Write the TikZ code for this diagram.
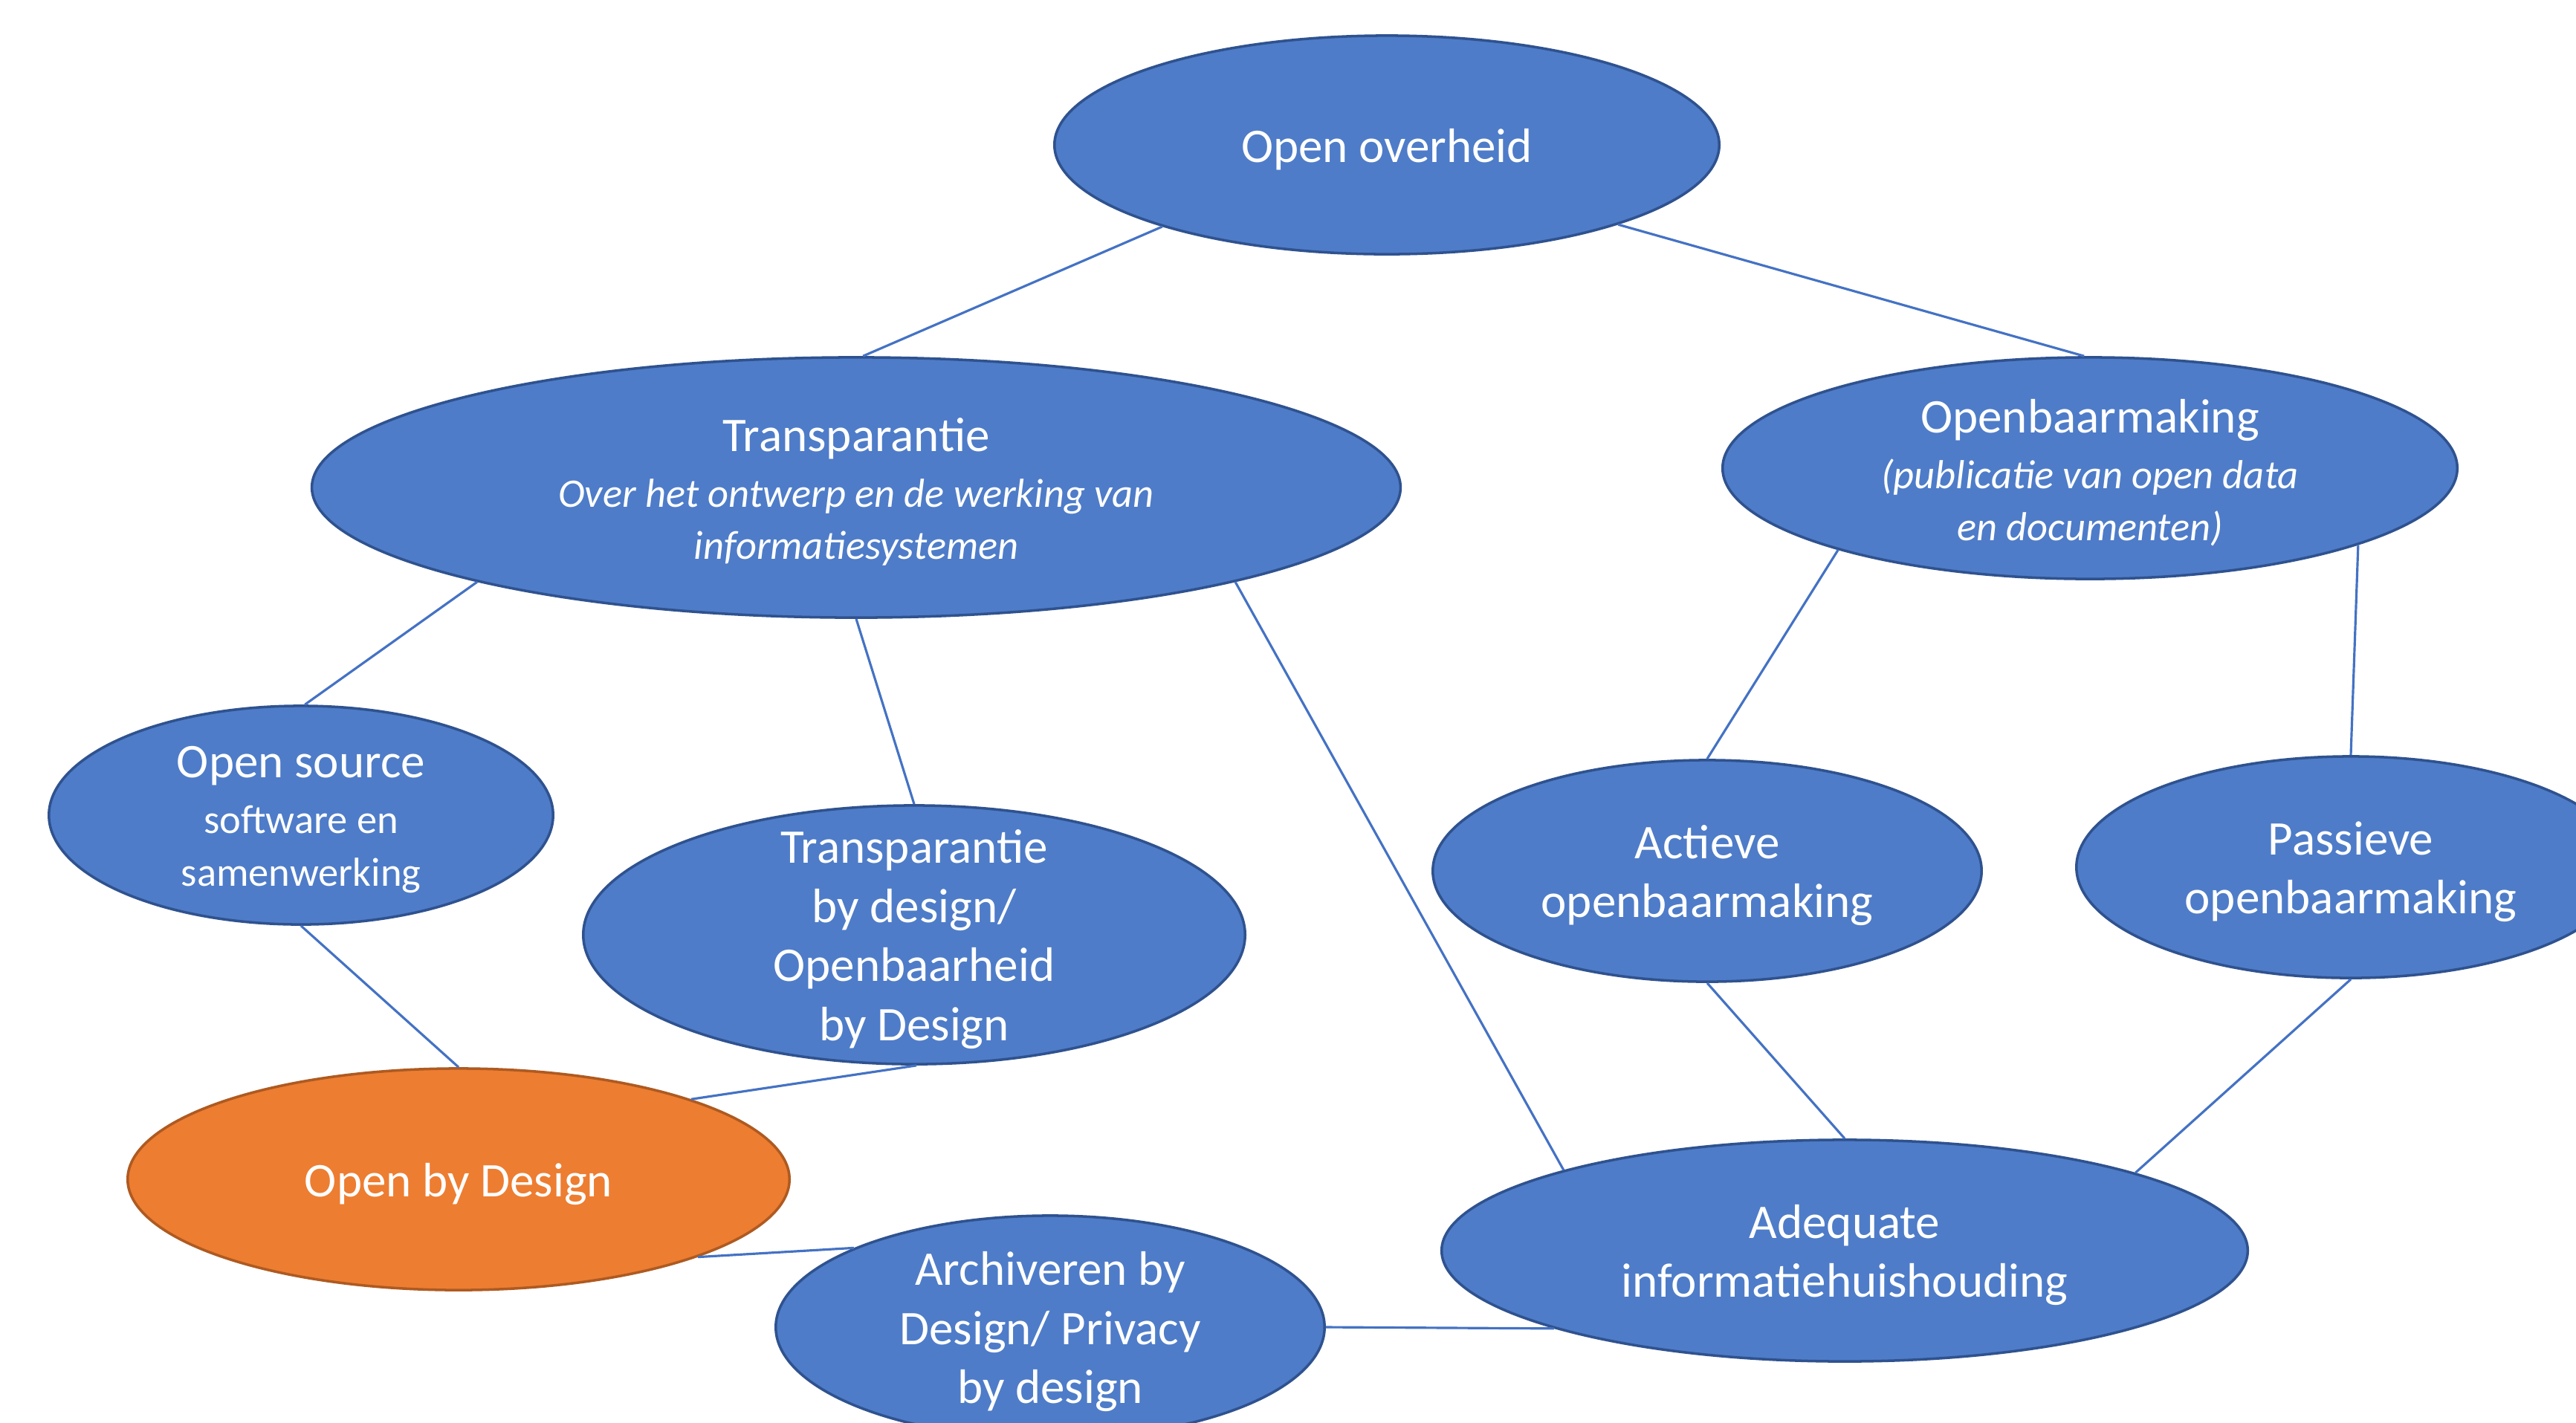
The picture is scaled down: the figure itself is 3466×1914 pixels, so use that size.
\documentclass[tikz,border=0pt]{standalone}
\usepackage{fontspec}
\setmainfont{Carlito}
\usetikzlibrary{shapes.geometric}

\definecolor{blobfill}{RGB}{78,124,200}
\definecolor{blobedge}{RGB}{47,82,143}
\definecolor{hubfill}{RGB}{237,125,49}
\definecolor{hubedge}{RGB}{174,90,33}
\definecolor{linkblue}{RGB}{68,114,196}

\newcommand{\subtxt}[1]{{\fontsize{15.5}{19}\selectfont #1}}
\newcommand{\subit}[1]{{\fontsize{15.5}{19}\selectfont\itshape #1}}

\begin{document}
\begin{tikzpicture}[x=0.01cm, y=-0.01cm,
    blob/.style={ellipse, draw=blobedge, fill=blobfill, line width=1pt, inner sep=0pt},
    hub/.style={blob, draw=hubedge, fill=hubfill},
    txt/.style={text=white, align=center, inner sep=0pt, yshift=-0.06cm, font=\fontsize{18.5}{22.6}\selectfont},
    link/.style={draw=linkblue, line width=0.9pt}]

    % Canvas
    \fill[white] (0,0) rectangle (3466,1914);
    \useasboundingbox (0,0) rectangle (3466,1914);
    \clip (0,0) rectangle (3466,1914);

    % Ellipses
    \node[blob, minimum width=8.94cm, minimum height=2.94cm] (oo) at (1866,195) {};
    \node[blob, minimum width=14.64cm, minimum height=3.5cm] (tr) at (1152,656) {};
    \node[blob, minimum width=9.88cm, minimum height=2.98cm] (ob) at (2812,630) {};
    \node[blob, minimum width=6.78cm, minimum height=2.94cm] (os) at (405,1097) {};
    \node[blob, minimum width=8.9cm, minimum height=3.48cm] (tbd) at (1230,1258) {};
    \node[blob, minimum width=7.38cm, minimum height=2.98cm] (ac) at (2297,1172) {};
    \node[blob, minimum width=7.38cm, minimum height=2.98cm] (pa) at (3163,1167) {};
    \node[hub, minimum width=8.9cm, minimum height=2.98cm] (obd) at (617,1587) {};
    \node[blob, minimum width=7.38cm, minimum height=3cm] (ar) at (1413,1786) {};
    \node[blob, minimum width=10.84cm, minimum height=2.98cm] (ad) at (2482,1683) {};

    % Texts
    \node[txt] (oo-t) at (oo) {Open overheid};
    \node[txt] (tr-t) at (tr) {Transparantie\\[-1.3pt]\subit{Over het ontwerp en de werking van}\\[-2.6pt]\subit{informatiesystemen}};
    \node[txt] (ob-t) at (ob) {Openbaarmaking\\[-1.3pt]\subit{(publicatie van open data}\\[-2.6pt]\subit{en documenten)}};
    \node[txt] (os-t) at (os) {Open source\\[-1.3pt]\subtxt{software en}\\[-2.6pt]\subtxt{samenwerking}};
    \node[txt] (tbd-t) at (tbd) {Transparantie\\by design/\\Openbaarheid\\by Design};
    \node[txt] (ac-t) at (ac) {Actieve\\openbaarmaking};
    \node[txt] (pa-t) at (pa) {Passieve\\openbaarmaking};
    \node[txt] (obd-t) at (obd) {Open by Design};
    \node[txt] (ar-t) at (ar) {Archiveren by\\Design/ Privacy\\by design};
    \node[txt] (ad-t) at (ad) {Adequate\\informatiehuishouding};

    % Connectors
    \draw[link] (oo.200) -- (tr.87);
    \draw[link] (oo.341) -- (ob.93);
    \draw[link] (tr.194) -- (os.88);
    \draw[link] (tr.270) -- (tbd.90);
    \draw[link] (tr.346) -- (ad.164);
    \draw[link] (ob.198) -- (ac.90);
    \draw[link] (ob.344) -- (pa.90);
    \draw[link] (os.270) -- (obd.90);
    \draw[link] (tbd.271) -- (obd.19);
    \draw[link] (obd.342) -- (ar.158);
    \draw[link] (ar.0) -- (ad.195);
    \draw[link] (ac.270) -- (ad.90);
    \draw[link] (pa.270) -- (ad.15);

\end{tikzpicture}
\end{document}
